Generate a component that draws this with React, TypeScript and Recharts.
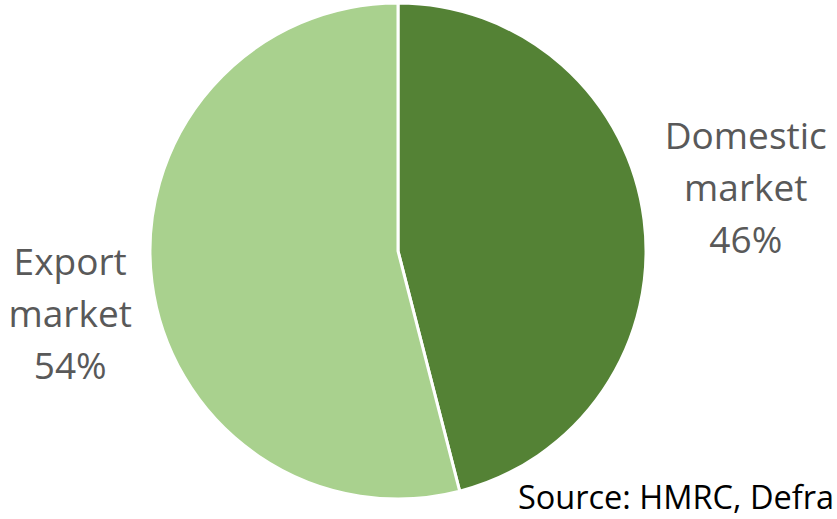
import { PieChart, Pie, Cell } from "recharts"

const sliceNames = ["Domestic market", "Export market"]
const sliceShares = [46, 54]
const sliceColors = ["#548235", "#A9D18E"]
const sourceNote = "Source: HMRC, Defra"

const W = 837
const H = 519
const labelFont = 37
const RAD = Math.PI / 180

const data = sliceNames.map((name, i) => ({ name, value: sliceShares[i] }))

// data label placed beside the pie, like Excel's "best fit"
function renderLabel(props: any) {
  const { cx, cy, midAngle, outerRadius, name, value } = props
  const cos = Math.cos(-midAngle * RAD)
  const sin = Math.sin(-midAngle * RAD)
  const side = cos >= 0 ? 1 : -1
  const lines = [...String(name).split(" "), `${value}%`]
  const longest = Math.max(...lines.map((l) => l.length))
  const edge = outerRadius + 22
  const x = cx + edge * cos + side * longest * labelFont * 0.27
  const midY = cy + edge * sin - side * 29
  const lineH = 52
  const firstY = midY - ((lines.length - 1) * lineH) / 2 + labelFont * 0.36
  return (
    <text
      x={x}
      y={firstY}
      textAnchor="middle"
      fill="#595959"
      fontSize={labelFont}
      fontFamily="'Open Sans', sans-serif"
    >
      {lines.map((l, i) => (
        <tspan key={i} x={x} y={firstY + i * lineH}>
          {l}
        </tspan>
      ))}
    </text>
  )
}

export default function App() {
  return (
    <div style={{ position: "absolute", left: 0, top: 0, width: W, height: H, background: "#fff" }}>
      <PieChart width={W} height={H} margin={{ top: 0, right: 0, bottom: 0, left: 0 }}>
        <Pie
          data={data}
          dataKey="value"
          nameKey="name"
          cx={398}
          cy={251}
          outerRadius={248}
          startAngle={90}
          endAngle={-270}
          stroke="#ffffff"
          strokeWidth={3}
          label={renderLabel}
          labelLine={false}
          isAnimationActive={false}
        >
          {data.map((d, i) => (
            <Cell key={d.name} fill={sliceColors[i]} />
          ))}
        </Pie>
      </PieChart>
      <svg
        width={W}
        height={H}
        style={{ position: "absolute", left: 0, top: 0, pointerEvents: "none" }}
      >
        <text
          x={834}
          y={509}
          textAnchor="end"
          fill="#000"
          fontSize={32.5}
          fontFamily="'Open Sans', sans-serif"
        >
          {sourceNote}
        </text>
      </svg>
    </div>
  )
}
